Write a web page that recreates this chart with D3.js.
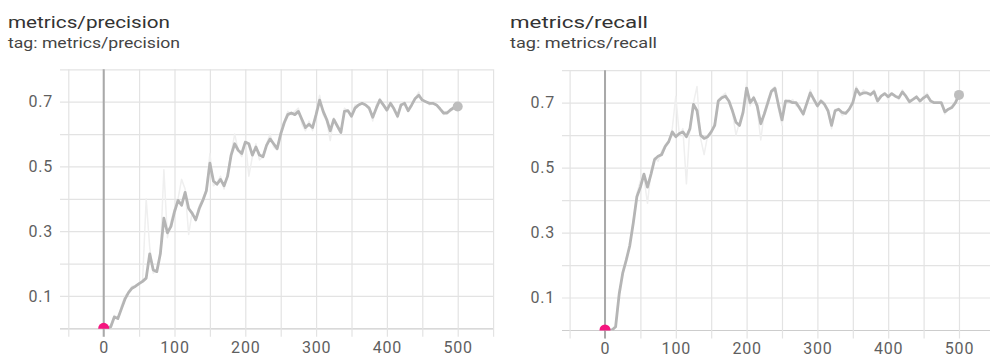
<!DOCTYPE html>
<html>
<head>
<meta charset="utf-8">
<script src="https://cdn.jsdelivr.net/npm/d3@7"></script>
<style>
  html, body { margin: 0; padding: 0; background: #fff; }
  svg { display: block; font-family: Roboto, "Noto Sans", sans-serif; }
</style>
</head>
<body>
<svg id="chart" width="990" height="358"></svg>
<script>
// Training steps at which the scalars were logged
const steps = [0,5,10,15,20,25,30,35,40,45,50,55,60,65,70,75,80,85,90,95,
  100,105,110,115,120,125,130,135,140,145,150,155,160,165,170,175,180,185,190,195,
  200,205,210,215,220,225,230,235,240,245,250,255,260,265,270,275,280,285,290,295,
  300,305,310,315,320,325,330,335,340,345,350,355,360,365,370,375,380,385,390,395,
  400,405,410,415,420,425,430,435,440,445,450,455,460,465,470,475,480,485,490,495,500];

// metrics/precision – smoothed curve
const precisionSmoothed = [0,0,0.005,0.035,0.03,0.06,0.09,0.11,0.124,0.13,
  0.138,0.145,0.155,0.23,0.18,0.175,0.23,0.34,0.295,0.315,
  0.36,0.395,0.38,0.42,0.37,0.355,0.335,0.37,0.395,0.425,
  0.51,0.455,0.445,0.46,0.44,0.47,0.535,0.57,0.55,0.54,
  0.575,0.57,0.535,0.56,0.535,0.53,0.565,0.585,0.57,0.555,
  0.6,0.635,0.66,0.665,0.66,0.67,0.645,0.62,0.63,0.62,
  0.66,0.705,0.67,0.645,0.61,0.645,0.625,0.605,0.67,0.672,
  0.655,0.68,0.69,0.695,0.69,0.68,0.652,0.68,0.705,0.69,
  0.674,0.695,0.678,0.655,0.69,0.695,0.672,0.69,0.71,0.72,
  0.705,0.70,0.695,0.695,0.69,0.678,0.665,0.665,0.675,0.682,0.685];

// metrics/precision – raw values
const precisionRaw = [0,0,0.01,0.04,0.03,0.07,0.10,0.11,0.13,0.13,
  0.14,0.15,0.40,0.25,0.17,0.18,0.23,0.49,0.28,0.33,
  0.37,0.40,0.46,0.43,0.29,0.36,0.33,0.38,0.40,0.43,
  0.54,0.44,0.45,0.47,0.43,0.48,0.54,0.60,0.55,0.53,
  0.58,0.47,0.53,0.57,0.52,0.53,0.57,0.60,0.56,0.55,
  0.61,0.64,0.67,0.66,0.67,0.68,0.63,0.61,0.64,0.61,
  0.67,0.72,0.66,0.64,0.58,0.65,0.62,0.60,0.68,0.67,
  0.65,0.69,0.69,0.70,0.69,0.68,0.64,0.69,0.71,0.69,
  0.67,0.70,0.68,0.65,0.70,0.70,0.67,0.69,0.71,0.73,
  0.70,0.70,0.69,0.70,0.69,0.68,0.66,0.67,0.67,0.68,0.685];

// metrics/recall – smoothed curve
const recallSmoothed = [0,0,0,0.01,0.11,0.175,0.215,0.26,0.33,0.41,
  0.44,0.48,0.44,0.48,0.525,0.535,0.54,0.565,0.58,0.61,
  0.595,0.605,0.61,0.595,0.62,0.695,0.675,0.6,0.59,0.595,
  0.61,0.63,0.705,0.715,0.72,0.705,0.675,0.64,0.63,0.67,
  0.745,0.70,0.715,0.69,0.635,0.665,0.70,0.735,0.744,0.693,
  0.647,0.705,0.705,0.70,0.70,0.683,0.665,0.698,0.73,0.71,
  0.69,0.705,0.695,0.675,0.63,0.675,0.68,0.67,0.667,0.68,
  0.70,0.742,0.725,0.73,0.73,0.725,0.734,0.705,0.72,0.728,
  0.718,0.728,0.72,0.715,0.733,0.72,0.703,0.71,0.718,0.705,
  0.715,0.722,0.705,0.70,0.70,0.70,0.672,0.68,0.685,0.70,0.724];

// metrics/recall – raw values
const recallRaw = [0,0,0,0.01,0.12,0.17,0.22,0.26,0.34,0.42,
  0.46,0.47,0.39,0.49,0.53,0.52,0.55,0.57,0.58,0.62,
  0.72,0.60,0.62,0.45,0.63,0.70,0.75,0.59,0.54,0.60,
  0.61,0.64,0.71,0.72,0.73,0.70,0.67,0.60,0.64,0.68,
  0.76,0.69,0.72,0.68,0.585,0.67,0.71,0.74,0.75,0.68,
  0.63,0.71,0.70,0.71,0.69,0.69,0.66,0.70,0.74,0.70,
  0.69,0.71,0.70,0.67,0.62,0.68,0.68,0.66,0.67,0.68,
  0.70,0.75,0.72,0.74,0.73,0.72,0.74,0.70,0.72,0.73,
  0.71,0.73,0.72,0.71,0.74,0.72,0.70,0.71,0.72,0.70,
  0.72,0.73,0.70,0.70,0.70,0.70,0.665,0.68,0.69,0.70,0.724];

const xTicks = [-50,0,50,100,150,200,250,300,350,400,450,500,550];
const xTickLabels = [0,100,200,300,400,500];
const yTicks = [0,0.1,0.2,0.3,0.4,0.5,0.6,0.7,0.8];
const yTickLabels = [0.1,0.3,0.5,0.7];

const panels = [
  { title: "metrics/precision", tag: "tag: metrics/precision",
    titleWidth: 162, tagWidth: 172,
    smooth: precisionSmoothed, raw: precisionRaw,
    left: 8, gridLeft: 60, xRange: [68.3, 493.1], gridRight: 493, yRange: [328.3, 69.3] },
  { title: "metrics/recall", tag: "tag: metrics/recall",
    titleWidth: 138, tagWidth: 147,
    smooth: recallSmoothed, raw: recallRaw,
    left: 510, gridLeft: 562, xRange: [569.6, 994.4], gridRight: 994, yRange: [330, 70.2] }
];

const svg = d3.select("#chart");
const gridColor = "#e3e3e3";
const textColor = "#5f5f5f";

panels.forEach((p, i) => {
  const x = d3.scaleLinear().domain([-50, 550]).range(p.xRange);
  const y = d3.scaleLinear().domain([0, 0.8]).range(p.yRange);
  const g = svg.append("g");
  const bottom = p.yRange[0];
  const top = p.yRange[1];
  const tickBottom = bottom + 8.5;

  // titles
  g.append("text").attr("x", p.left).attr("y", 27.5)
    .attr("font-size", 17).attr("fill", "#333")
    .attr("textLength", p.titleWidth).attr("lengthAdjust", "spacingAndGlyphs")
    .text(p.title);
  g.append("text").attr("x", p.left).attr("y", 48)
    .attr("font-size", 14).attr("fill", "#444")
    .attr("textLength", p.tagWidth).attr("lengthAdjust", "spacingAndGlyphs")
    .text(p.tag);

  // horizontal grid + y labels
  const yAxis = d3.axisLeft(y).tickValues(yTicks)
    .tickSize(-(p.gridRight - p.gridLeft)).tickPadding(7)
    .tickFormat(d => yTickLabels.some(v => Math.abs(v - d) < 1e-9) ? d3.format(".1f")(d) : "");
  const ya = g.append("g").attr("transform", `translate(${p.gridLeft},0)`).call(yAxis);
  ya.select(".domain").remove();
  ya.selectAll(".tick line").attr("stroke", d => d === 0 ? "#cdcdcd" : gridColor).attr("stroke-width", 1.2);
  ya.selectAll(".tick text").attr("fill", textColor).attr("font-size", 16)
    .attr("letter-spacing", 0.8).attr("font-family", "Roboto, sans-serif");

  // vertical grid + x labels
  const xAxis = d3.axisBottom(x).tickValues(xTicks)
    .tickSize(-(tickBottom - top)).tickPadding(4.5)
    .tickFormat(d => xTickLabels.includes(d) ? String(d) : "");
  const xa = g.append("g").attr("transform", `translate(0,${tickBottom})`).call(xAxis);
  xa.select(".domain").remove();
  xa.selectAll(".tick line").attr("stroke", gridColor).attr("stroke-width", 1.2);
  xa.selectAll(".tick text").attr("fill", textColor).attr("font-size", 16)
    .attr("letter-spacing", 0.8).attr("font-family", "Roboto, sans-serif");

  // zero-step marker line
  g.append("line").attr("x1", x(0)).attr("x2", x(0)).attr("y1", top).attr("y2", tickBottom)
    .attr("stroke", "#a9a9a9").attr("stroke-width", 2);

  // clip region for data
  const clipId = "clip" + i;
  svg.append("clipPath").attr("id", clipId).append("rect")
    .attr("x", p.gridLeft).attr("y", top - 10)
    .attr("width", p.gridRight - p.gridLeft).attr("height", bottom - top + 10.5);

  const data = g.append("g").attr("clip-path", `url(#${clipId})`);
  const line = d3.line().x((d, j) => x(steps[j])).y(d => y(d));

  data.append("path").datum(p.raw).attr("d", line)
    .attr("fill", "none").attr("stroke", "#efefef").attr("stroke-width", 1.5)
    .attr("stroke-linejoin", "round");
  data.append("path").datum(p.smooth).attr("d", line)
    .attr("fill", "none").attr("stroke", "#b5b5b5").attr("stroke-width", 2.8)
    .attr("stroke-linejoin", "round").attr("stroke-linecap", "round");

  // first point marker
  data.append("circle").attr("cx", x(steps[0])).attr("cy", y(p.smooth[0]))
    .attr("r", 5.5).attr("fill", "#f5157f");
  // last point marker
  const n = steps.length - 1;
  data.append("circle").attr("cx", x(steps[n])).attr("cy", y(p.smooth[n]))
    .attr("r", 5).attr("fill", "#bdbdbd");
});
</script>
</body>
</html>
